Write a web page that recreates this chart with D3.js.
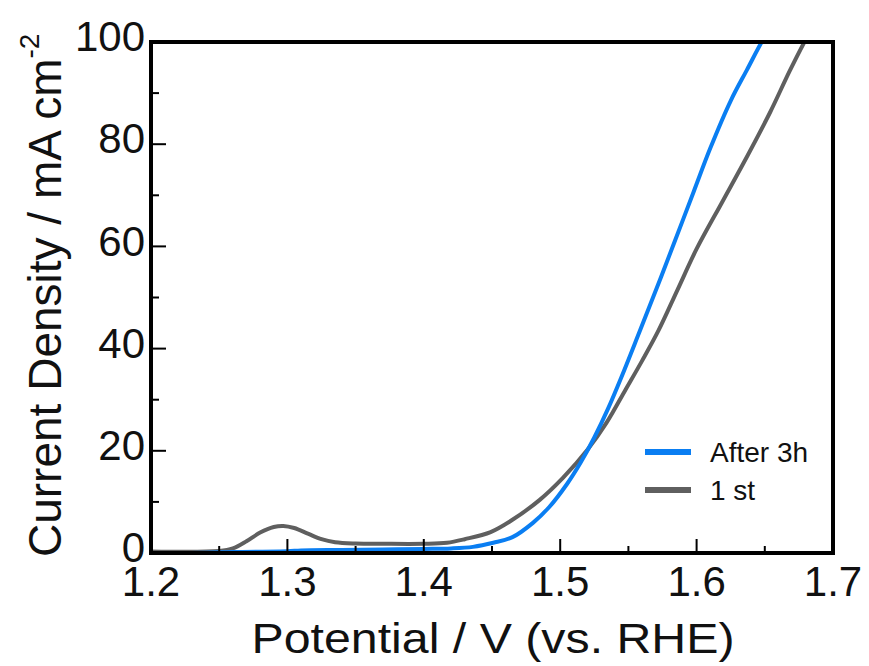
<!DOCTYPE html>
<html>
<head>
<meta charset="utf-8">
<script src="https://cdn.jsdelivr.net/npm/d3@7"></script>
<style>
  body { margin: 0; background: #fff; }
  svg text { font-family: "Liberation Sans", Arial, sans-serif; fill: #111; }
</style>
</head>
<body>
<svg id="chart" width="869" height="666"></svg>
<script>
// ---- data ----
const after3hV = [1.20, 1.24, 1.26, 1.30, 1.31, 1.34, 1.37, 1.40, 1.42, 1.436, 1.451, 1.465, 1.480, 1.492, 1.505, 1.515, 1.525, 1.535, 1.545, 1.558, 1.571, 1.584, 1.598, 1.610, 1.625, 1.637, 1.649, 1.655];
const after3hJ = [0.0, 0.05, 0.2, 0.35, 0.5, 0.6, 0.7, 0.8, 0.9, 1.2, 2.0, 3.1, 5.9, 9.0, 13.5, 17.7, 22.6, 28.2, 34.5, 43.2, 52.0, 61.0, 70.8, 79.2, 88.5, 94.6, 100.6, 103];

const firstV = [1.20, 1.25, 1.26, 1.27, 1.28, 1.29, 1.297, 1.305, 1.315, 1.325, 1.335, 1.35, 1.37, 1.40, 1.417, 1.430, 1.449, 1.465, 1.485, 1.502, 1.520, 1.534, 1.548, 1.560, 1.572, 1.586, 1.600, 1.619, 1.637, 1.654, 1.668, 1.679, 1.685];
const firstJ = [0.3, 0.4, 0.9, 2.3, 4.0, 5.1, 5.3, 4.9, 3.8, 2.7, 2.1, 1.85, 1.8, 1.8, 2.0, 2.7, 4.1, 6.5, 10.4, 14.7, 20.2, 25.5, 32.0, 37.6, 43.5, 51.5, 59.5, 68.8, 77.6, 86.3, 94.2, 100, 103];

const seriesNames = ["After 3h", "1 st"];
const seriesColors = ["#0a7ef2", "#5f5f5f"];

const xMajor = [1.2, 1.3, 1.4, 1.5, 1.6, 1.7];
const xMinor = [1.25, 1.35, 1.45, 1.55, 1.65];
const yMajor = [0, 20, 40, 60, 80, 100];
const yMinor = [10, 30, 50, 70, 90];

const xTitle = "Potential / V (vs. RHE)";
const yTitle = "Current Density / mA cm";
const yTitleSup = "-2";

// ---- layout ----
const L = 151, R = 833, T = 42, B = 553;
const svg = d3.select("#chart");
const x = d3.scaleLinear().domain([1.2, 1.7]).range([L, R]);
const y = d3.scaleLinear().domain([0, 100]).range([B, T]);

svg.append("clipPath").attr("id", "clip")
  .append("rect").attr("x", L).attr("y", T).attr("width", R - L).attr("height", B - T);

const line = d3.line().x(d => x(d[0])).y(d => y(d[1])).curve(d3.curveCatmullRom.alpha(0.5));
const series = [
  d3.zip(after3hV, after3hJ),
  d3.zip(firstV, firstJ)
];
// draw 1st first so that After 3h sits above
[1, 0].forEach(i => {
  svg.append("path")
    .attr("d", line(series[i]))
    .attr("fill", "none")
    .attr("stroke", seriesColors[i])
    .attr("stroke-width", 4)
    .attr("stroke-linejoin", "round")
    .attr("clip-path", "url(#clip)");
});

// ticks (inward)
const tickG = svg.append("g").attr("stroke", "#000").attr("stroke-width", 2);
xMajor.forEach(v => tickG.append("line").attr("x1", x(v)).attr("x2", x(v)).attr("y1", B).attr("y2", B - 14));
xMinor.forEach(v => tickG.append("line").attr("x1", x(v)).attr("x2", x(v)).attr("y1", B).attr("y2", B - 7));
yMajor.forEach(v => tickG.append("line").attr("x1", L).attr("x2", L + 15).attr("y1", y(v)).attr("y2", y(v)));
yMinor.forEach(v => tickG.append("line").attr("x1", L).attr("x2", L + 8).attr("y1", y(v)).attr("y2", y(v)));

// frame
svg.append("rect").attr("x", L).attr("y", T).attr("width", R - L).attr("height", B - T)
  .attr("fill", "none").attr("stroke", "#000").attr("stroke-width", 4);

// tick labels
svg.append("g").selectAll("text").data(xMajor).join("text")
  .attr("x", d => x(d)).attr("y", 596)
  .attr("text-anchor", "middle").attr("font-size", 42)
  .text(d => d3.format(".1f")(d));
svg.append("g").selectAll("text").data(yMajor).join("text")
  .attr("x", 145).attr("y", d => y(d) - 6)
  .attr("dy", "0.36em")
  .attr("text-anchor", "end").attr("font-size", 42)
  .text(d => d);

// axis titles
svg.append("text")
  .attr("x", (L + R) / 2 + 1).attr("y", 653)
  .attr("text-anchor", "middle").attr("font-size", 43)
  .attr("textLength", 483).attr("lengthAdjust", "spacingAndGlyphs")
  .text(xTitle);

const yt = svg.append("text")
  .attr("transform", "translate(61,557) rotate(-90)")
  .attr("text-anchor", "start").attr("font-size", 46);
yt.append("tspan").text(yTitle);
yt.append("tspan").attr("font-size", 28).attr("dy", -22).text(yTitleSup);

// legend
const legY = [452, 490];
seriesNames.forEach((name, i) => {
  svg.append("line").attr("x1", 645).attr("x2", 691).attr("y1", legY[i]).attr("y2", legY[i])
    .attr("stroke", seriesColors[i]).attr("stroke-width", 6);
  svg.append("text").attr("x", 710).attr("y", legY[i] + 10).attr("font-size", 28).text(name);
});
</script>
</body>
</html>
